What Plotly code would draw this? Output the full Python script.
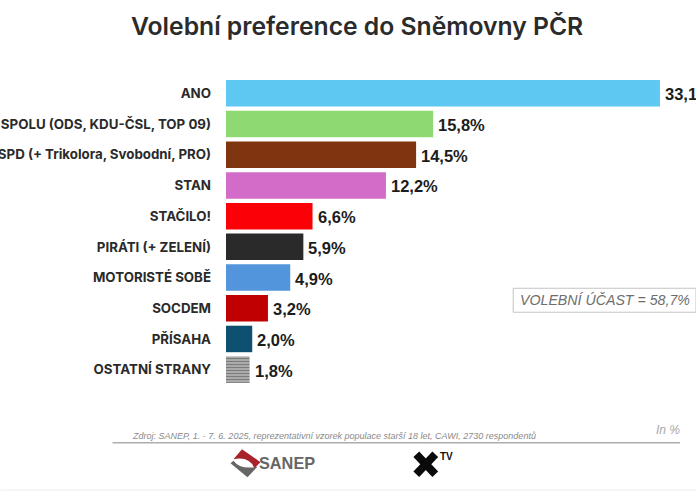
import plotly.graph_objects as go

W, H = 696, 491
L, T, B = 225.5, 77.6, 106.2

parties = ['ANO', 'SPOLU (ODS, KDU-ČSL, TOP 09)', 'SPD (+ Trikolora, Svobodní, PRO)', 'STAN', 'STAČILO!',
           'PIRÁTI (+ ZELENÍ)', 'MOTORISTÉ SOBĚ', 'SOCDEM', 'PŘÍSAHA', 'OSTATNÍ STRANY']
values = [33.1, 15.8, 14.5, 12.2, 6.6, 5.9, 4.9, 3.2, 2.0, 1.8]
colors = ['#5ec8f2', '#8fd973', '#7f3610', '#d36cc8', '#fb0007', '#2a2a2a', '#5295dc', '#c00000', '#0e5070', '#b4b4b4']
patterns = ['', '', '', '', '', '', '', '', '', '-']

labels = [f'{v:.1f}%'.replace('.', ',') for v in values]


# logo and rule positions below are in picture pixels, paper coords follow the plot area
def px(x):
    return (x - L) / (W - L)


def py(y):
    return 1 - (y - T) / (H - T - B)


def path(cmds):
    out = []
    for c in cmds:
        if isinstance(c, str):
            out.append(c)
        else:
            out.append(f'{px(c[0]):.5f},{py(c[1]):.5f}')
    return ' '.join(out)


fig = go.Figure(go.Bar(
    x=values,
    y=parties,
    orientation='h',
    marker=dict(color=colors, line=dict(width=0),
                pattern=dict(shape=patterns, fgcolor='#8c8c8c', bgcolor='#c2c2c2', size=3, solidity=0.45)),
    cliponaxis=False,
))

shapes = [
    dict(type='line', xref='paper', yref='paper', x0=px(112), x1=px(680), y0=py(442.5), y1=py(442.5),
         line=dict(color='#adadad', width=1.5)),
    dict(type='line', xref='paper', yref='paper', x0=px(0), x1=px(696), y0=py(490), y1=py(490),
         line=dict(color='#ececec', width=1)),
    dict(type='rect', xref='paper', yref='paper', x0=px(513), x1=px(696), y0=py(288), y1=py(312),
         line=dict(color='#c4c4c4', width=1), fillcolor='white'),
    # SANEP logo
    dict(type='path', xref='paper', yref='paper', line=dict(width=0), fillcolor='#a8222c',
         path=path(['M', (233, 459), 'L', (241.5, 449), 'L', (260, 462), 'L', (254, 468),
                    'Q', (249, 456), (233, 459), 'Z'])),
    dict(type='path', xref='paper', yref='paper', line=dict(width=0), fillcolor='#666666',
         path=path(['M', (230, 463), 'L', (233, 460.5), 'Q', (240, 470), (257, 466.5), 'L', (247, 477), 'Z'])),
    # X logo
    dict(type='line', xref='paper', yref='paper', x0=px(416), x1=px(435), y0=py(454), y1=py(474),
         line=dict(color='#0a0a0a', width=8)),
    dict(type='line', xref='paper', yref='paper', x0=px(435), x1=px(416), y0=py(454), y1=py(474),
         line=dict(color='#0a0a0a', width=8)),
]

annotations = [
    dict(text='Volební preference do Sněmovny PČR', x=px(356.5), y=py(26), xanchor='center',
         font=dict(family='Inter', size=24.7, color='#2b2b2b', weight=600)),
    dict(text='VOLEBNÍ ÚČAST = 58,7%', x=px(605), y=py(300), xanchor='center',
         font=dict(family='Liberation Sans', size=14.2, color='#6e6e6e', style='italic')),
    dict(text='Zdroj: SANEP, 1. - 7. 6. 2025, reprezentativní vzorek populace starší 18 let, CAWI, 2730 respondentů',
         x=px(129), y=py(436), xanchor='left',
         font=dict(family='Liberation Sans', size=9, color='#8a8a8a', style='italic')),
    dict(text='In %', x=px(682), y=py(430), xanchor='right',
         font=dict(family='Liberation Sans', size=12, color='#a8a8a8', style='italic')),
    dict(text='SANEP', x=px(257), y=py(463), xanchor='left',
         font=dict(family='Liberation Sans', size=16.3, color='#666666', weight='bold')),
    dict(text='TV', x=px(437.5), y=py(456.5), xanchor='left',
         font=dict(family='Liberation Sans', size=10, color='#111111', weight='bold')),
]
for a in annotations:
    a.update(xref='paper', yref='paper', yanchor='middle', showarrow=False)

# value labels sit a little further from the bars than textposition outside allows
for party, value, label in zip(parties, values, labels):
    annotations.append(dict(text=label, x=value, y=party, xref='x', yref='y', xanchor='left', yanchor='middle',
                            xshift=3, yshift=-1, showarrow=False,
                            font=dict(family='Liberation Sans', size=16.5, color='#1c1c1c', weight='bold')))

fig.update_layout(
    width=W,
    height=H,
    margin=dict(l=L, r=0, t=T, b=B, pad=0),
    paper_bgcolor='white',
    plot_bgcolor='white',
    showlegend=False,
    bargap=0.137,
    shapes=shapes,
    annotations=annotations,
)
fig.update_xaxes(range=[0, 35.85], visible=False)
fig.update_yaxes(autorange='reversed', automargin=False, showgrid=False, showline=False, zeroline=False, ticks='',
                 ticklabelstandoff=14,
                 tickfont=dict(family='Inter', size=13.3, color='#2a2a2a', weight=700))

# default page has an 8px body margin
fig.write_html("out.html", config={'displayModeBar': False},
               post_script="document.body.style.margin='0';document.documentElement.style.overflow='hidden';")
